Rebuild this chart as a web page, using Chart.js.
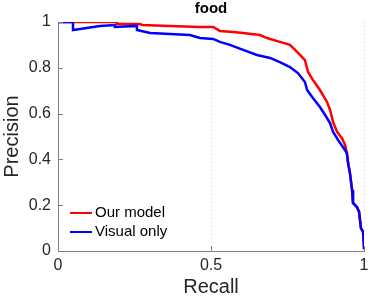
<!DOCTYPE html>
<html>
<head>
<meta charset="utf-8">
<script src="https://cdn.jsdelivr.net/npm/chart.js@4/dist/chart.umd.min.js"></script>
<style>
  html, body { margin: 0; padding: 0; background: #fff; }
  #wrap { width: 374px; height: 299px; }
</style>
</head>
<body>
<div id="wrap"><canvas id="prChart" width="374" height="299"></canvas></div>
<script>
const title = "food";
const xLabel = "Recall";
const yLabel = "Precision";
const xTicks = [0, 0.5, 1];
const yTicks = [0, 0.2, 0.4, 0.6, 0.8, 1];

// Our model (red)
const oursRecall = [0, 0.193, 0.193, 0.268, 0.275, 0.366, 0.464, 0.507, 0.529, 0.572, 0.605, 0.660, 0.683, 0.725, 0.758, 0.775, 0.791, 0.807, 0.817, 0.833, 0.856, 0.879, 0.889, 0.899, 0.912, 0.928, 0.938, 0.944, 0.948, 0.954, 0.961, 0.964, 0.977, 0.984, 0.990, 0.997, 1.0, 1.0];
const oursPrecision = [1.0, 1.0, 0.991, 0.991, 0.987, 0.983, 0.978, 0.978, 0.961, 0.956, 0.952, 0.943, 0.930, 0.913, 0.900, 0.878, 0.856, 0.834, 0.782, 0.747, 0.703, 0.651, 0.616, 0.563, 0.520, 0.493, 0.463, 0.428, 0.384, 0.341, 0.266, 0.210, 0.192, 0.170, 0.100, 0.083, 0.017, 0.008];

// Visual only (blue)
const visRecall = [0, 0.049, 0.049, 0.072, 0.137, 0.186, 0.186, 0.258, 0.258, 0.301, 0.366, 0.431, 0.464, 0.507, 0.529, 0.562, 0.605, 0.650, 0.693, 0.725, 0.758, 0.784, 0.807, 0.814, 0.833, 0.856, 0.873, 0.889, 0.899, 0.915, 0.931, 0.944, 0.948, 0.954, 0.961, 0.964, 0.977, 0.984, 0.990, 0.997, 1.0, 1.0];
const visPrecision = [1.0, 1.0, 0.965, 0.969, 0.983, 0.987, 0.978, 0.983, 0.965, 0.952, 0.948, 0.943, 0.930, 0.926, 0.913, 0.900, 0.878, 0.856, 0.843, 0.825, 0.803, 0.777, 0.738, 0.703, 0.668, 0.629, 0.594, 0.559, 0.520, 0.485, 0.454, 0.428, 0.384, 0.341, 0.266, 0.210, 0.192, 0.170, 0.100, 0.083, 0.017, 0.008];

const seriesNames = ["Our model", "Visual only"];
const seriesColors = ["#ff0000", "#0000ff"];

const toPoints = (xs, ys) => xs.map((x, i) => ({ x: x, y: ys[i] }));

const textColor = "#262626";
const axisColor = "#808080";
const fontFamily = "'Liberation Sans', Arial, Helvetica, sans-serif";

// title, inward tick marks and in-plot legend
const decorations = {
  id: "decorations",
  afterDraw(chart) {
    const ctx = chart.ctx;
    const area = chart.chartArea;
    const xs = chart.scales.x, ys = chart.scales.y;
    ctx.save();
    ctx.strokeStyle = axisColor;
    ctx.lineWidth = 1;
    xTicks.forEach(v => {
      const px = Math.round(xs.getPixelForValue(v)) + 0.5;
      ctx.beginPath();
      ctx.moveTo(px, area.bottom);
      ctx.lineTo(px, area.bottom - 5);
      ctx.stroke();
    });
    yTicks.forEach(v => {
      const py = Math.round(ys.getPixelForValue(v)) + 0.5;
      ctx.beginPath();
      ctx.moveTo(area.left, py);
      ctx.lineTo(area.left + 5, py);
      ctx.stroke();
    });

    ctx.fillStyle = "#000";
    ctx.font = "bold 15px " + fontFamily;
    ctx.textAlign = "center";
    ctx.textBaseline = "middle";
    ctx.fillText(title, (area.left + area.right) / 2, 9);

    ctx.font = "15px " + fontFamily;
    ctx.textAlign = "left";
    seriesNames.forEach((name, i) => {
      const y = 213 + i * 19;
      ctx.strokeStyle = seriesColors[i];
      ctx.lineWidth = 2;
      ctx.beginPath();
      ctx.moveTo(70, y);
      ctx.lineTo(92, y);
      ctx.stroke();
      ctx.fillStyle = "#000";
      ctx.fillText(name, 95, y);
    });
    ctx.restore();
  }
};

new Chart(document.getElementById("prChart"), {
  type: "scatter",
  data: {
    datasets: [
      {
        label: seriesNames[1],
        data: toPoints(visRecall, visPrecision),
        borderColor: seriesColors[1],
        borderWidth: 2.5,
        showLine: true,
        pointRadius: 0,
        tension: 0
      },
      {
        label: seriesNames[0],
        data: toPoints(oursRecall, oursPrecision),
        borderColor: seriesColors[0],
        borderWidth: 2.5,
        showLine: true,
        pointRadius: 0,
        tension: 0
      }
    ]
  },
  options: {
    responsive: false,
    animation: false,
    layout: { padding: { top: 22, right: 10, left: 0, bottom: 0 } },
    plugins: {
      legend: { display: false },
      tooltip: { enabled: false }
    },
    scales: {
      x: {
        type: "linear",
        min: 0,
        max: 1,
        afterBuildTicks: s => { s.ticks = xTicks.map(v => ({ value: v })); },
        afterFit: s => { s.height = 48; },
        ticks: {
          color: textColor,
          font: { family: fontFamily, size: 16 },
          padding: 5,
          maxRotation: 0,
          callback: v => String(v)
        },
        grid: {
          drawTicks: false,
          color: ctx => (ctx.tick && ctx.tick.value === 0) ? "rgba(0,0,0,0)" : "#d0d0d0",
          lineWidth: 1
        },
        border: { display: true, color: axisColor, width: 1, dash: [1, 3] },
        title: {
          display: true,
          text: xLabel,
          color: textColor,
          font: { family: fontFamily, size: 20 },
          padding: 0
        }
      },
      y: {
        type: "linear",
        min: 0,
        max: 1,
        afterBuildTicks: s => { s.ticks = yTicks.map(v => ({ value: v })); },
        afterFit: s => { s.width = 58; },
        ticks: {
          color: textColor,
          font: { family: fontFamily, size: 16 },
          padding: 7,
          callback: v => String(v)
        },
        grid: { display: false, drawTicks: false },
        border: { display: true, color: axisColor, width: 1 },
        title: {
          display: true,
          text: yLabel,
          color: textColor,
          font: { family: fontFamily, size: 20 },
          padding: 0
        }
      }
    }
  },
  plugins: [decorations]
});
</script>
</body>
</html>
